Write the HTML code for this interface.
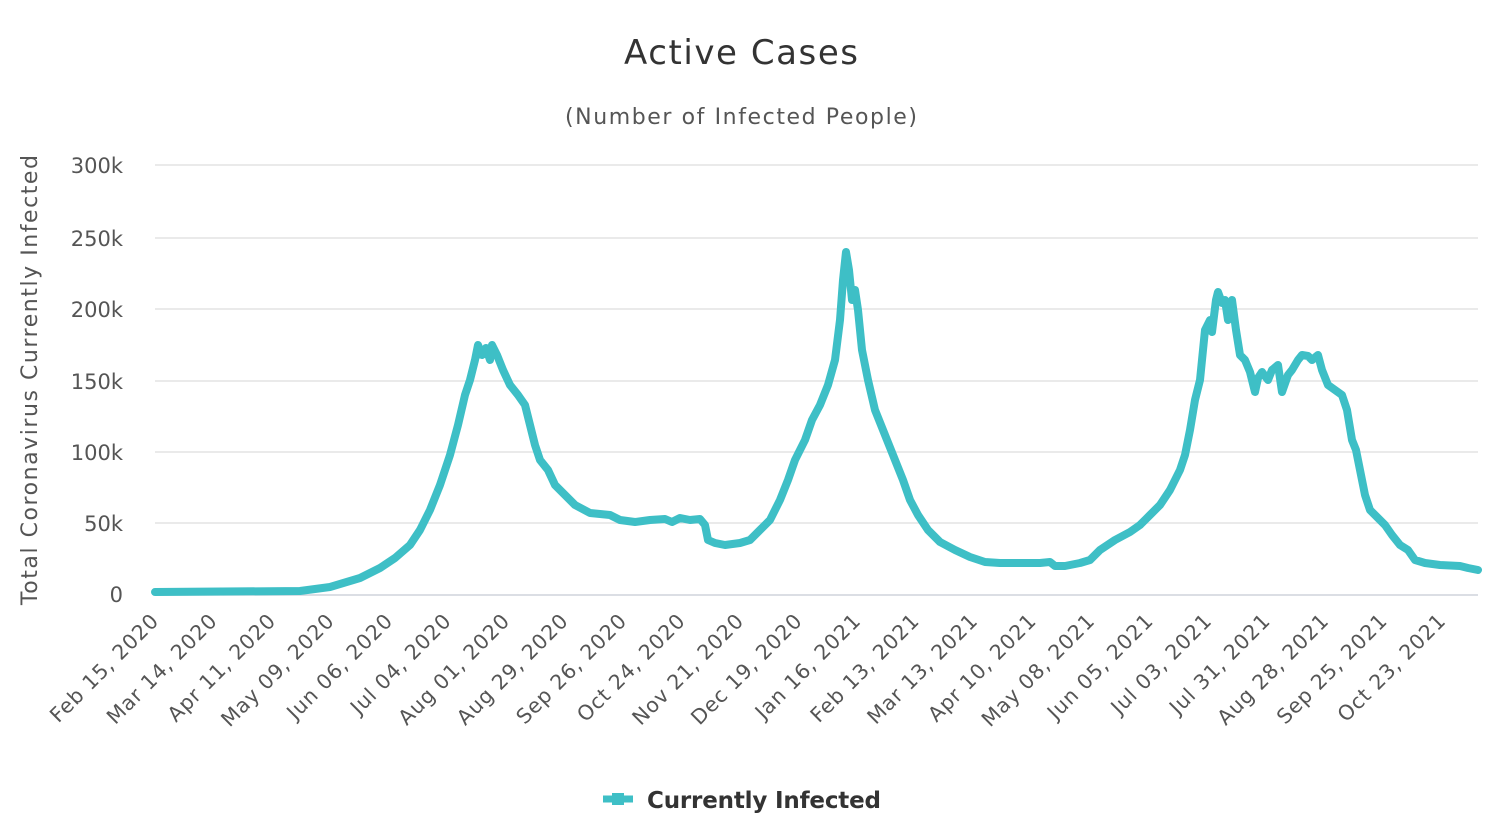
<!DOCTYPE html>
<html><head><meta charset="utf-8"><style>
html,body{margin:0;padding:0;background:#fff;}
svg{display:block;font-family:"DejaVu Sans","Liberation Sans",sans-serif;}
</style></head><body>
<svg width="1500" height="824" viewBox="0 0 1500 824" xmlns="http://www.w3.org/2000/svg">
<rect width="1500" height="824" fill="#fff"/>
<text x="741" y="64" text-anchor="middle" font-size="34" fill="#333" textLength="234">Active Cases</text>
<text x="741" y="124" text-anchor="middle" font-size="22" fill="#555" textLength="352">(Number of Infected People)</text>
<g stroke="#e3e3e3" stroke-width="1.5">
<line x1="155" y1="165" x2="1478" y2="165"/>
<line x1="155" y1="238" x2="1478" y2="238"/>
<line x1="155" y1="309" x2="1478" y2="309"/>
<line x1="155" y1="381" x2="1478" y2="381"/>
<line x1="155" y1="452" x2="1478" y2="452"/>
<line x1="155" y1="523" x2="1478" y2="523"/>
</g>
<line x1="155" y1="595" x2="1478" y2="595" stroke="#cfd3dc" stroke-width="1.5"/>
<g font-size="21" fill="#555" text-anchor="end">
<text x="123" y="173">300k</text>
<text x="123" y="246">250k</text>
<text x="123" y="317">200k</text>
<text x="123" y="389">150k</text>
<text x="123" y="460">100k</text>
<text x="123" y="531">50k</text>
<text x="123" y="602">0</text>
</g>
<text transform="translate(37,380) rotate(-90)" text-anchor="middle" font-size="22" fill="#555" textLength="450">Total Coronavirus Currently Infected</text>
<g font-size="20.5" fill="#555" text-anchor="end" letter-spacing="0.8">
<text transform="translate(160,622) rotate(-45)">Feb 15, 2020</text>
<text transform="translate(218.5,622) rotate(-45)">Mar 14, 2020</text>
<text transform="translate(277,622) rotate(-45)">Apr 11, 2020</text>
<text transform="translate(335.5,622) rotate(-45)">May 09, 2020</text>
<text transform="translate(394,622) rotate(-45)">Jun 06, 2020</text>
<text transform="translate(452.5,622) rotate(-45)">Jul 04, 2020</text>
<text transform="translate(511,622) rotate(-45)">Aug 01, 2020</text>
<text transform="translate(569.5,622) rotate(-45)">Aug 29, 2020</text>
<text transform="translate(628,622) rotate(-45)">Sep 26, 2020</text>
<text transform="translate(686.5,622) rotate(-45)">Oct 24, 2020</text>
<text transform="translate(745,622) rotate(-45)">Nov 21, 2020</text>
<text transform="translate(803.5,622) rotate(-45)">Dec 19, 2020</text>
<text transform="translate(862,622) rotate(-45)">Jan 16, 2021</text>
<text transform="translate(920.5,622) rotate(-45)">Feb 13, 2021</text>
<text transform="translate(979,622) rotate(-45)">Mar 13, 2021</text>
<text transform="translate(1037.5,622) rotate(-45)">Apr 10, 2021</text>
<text transform="translate(1096,622) rotate(-45)">May 08, 2021</text>
<text transform="translate(1154.5,622) rotate(-45)">Jun 05, 2021</text>
<text transform="translate(1213,622) rotate(-45)">Jul 03, 2021</text>
<text transform="translate(1271.5,622) rotate(-45)">Jul 31, 2021</text>
<text transform="translate(1330,622) rotate(-45)">Aug 28, 2021</text>
<text transform="translate(1388.5,622) rotate(-45)">Sep 25, 2021</text>
<text transform="translate(1447,622) rotate(-45)">Oct 23, 2021</text>
</g>
<polyline fill="none" stroke="#3ebfc6" stroke-width="8" stroke-linejoin="round" stroke-linecap="round" points="155,592 300,591 330,587 360,578 380,568 395,558 410,545 420,530 430,510 440,485 450,455 458,425 465,395 470,380 475,360 478,345 482,355 486,348 490,360 492,345 497,355 503,370 510,385 518,395 525,405 530,425 535,445 540,460 548,470 555,485 565,495 575,505 590,513 610,515 620,520 635,522 650,520 665,519 672,522 680,518 690,520 700,519 705,525 708,540 715,543 725,545 740,543 750,540 760,530 770,520 780,500 788,480 795,460 805,440 812,420 820,405 828,385 835,360 840,320 843,280 846,252 849,270 852,300 855,290 858,310 862,350 868,380 875,410 885,435 895,460 903,480 910,500 918,515 928,530 940,542 955,550 970,557 985,562 1000,563 1020,563 1040,563 1050,562 1055,566 1065,566 1080,563 1090,560 1100,550 1115,540 1130,532 1140,525 1150,515 1160,505 1170,490 1180,470 1185,455 1190,430 1195,400 1200,380 1205,330 1210,320 1212,332 1216,300 1218,292 1222,303 1225,300 1228,320 1232,300 1236,330 1240,355 1245,360 1250,372 1255,392 1258,378 1262,372 1268,380 1272,370 1278,365 1282,392 1288,375 1292,370 1298,360 1302,355 1308,356 1312,360 1318,355 1322,370 1328,385 1335,390 1342,395 1347,410 1352,440 1356,450 1360,470 1365,495 1370,510 1378,518 1385,525 1392,535 1400,545 1408,550 1415,560 1425,563 1440,565 1460,566 1468,568 1478,570"/>
<line x1="603" y1="799" x2="633" y2="799" stroke="#3ebfc6" stroke-width="7"/>
<rect x="612" y="793" width="12" height="12" fill="#3ebfc6"/>
<text x="647" y="808" font-size="23" font-weight="bold" fill="#333" textLength="234">Currently Infected</text>
</svg>
</body></html>
